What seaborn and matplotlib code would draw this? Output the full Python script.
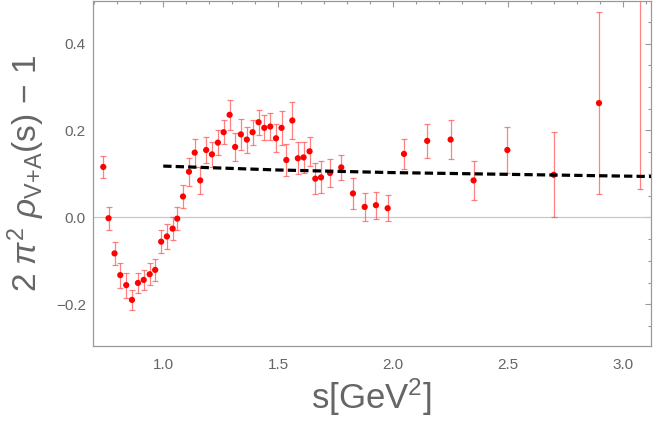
import matplotlib
matplotlib.use("Agg")
import matplotlib.pyplot as plt
import seaborn as sns
import numpy as np
import pandas as pd
from matplotlib.ticker import MultipleLocator, FixedLocator

# ---- data ----
s_vals = [0.739, 0.762, 0.788, 0.813, 0.839, 0.864, 0.890, 0.915, 0.941, 0.965,
          0.991, 1.016, 1.041, 1.061, 1.086, 1.112, 1.137, 1.161, 1.187, 1.212,
          1.238, 1.263, 1.289, 1.313, 1.338, 1.364, 1.389, 1.415, 1.440, 1.466,
          1.491, 1.515, 1.536, 1.562, 1.586, 1.611, 1.637, 1.662, 1.687, 1.726,
          1.775, 1.826, 1.877, 1.926, 1.977, 2.048, 2.149, 2.251, 2.351, 2.498,
          2.700, 2.897, 3.077]
rho_vals = [0.116, -0.002, -0.083, -0.133, -0.156, -0.190, -0.151, -0.144, -0.131, -0.121,
            -0.056, -0.044, -0.026, -0.003, 0.048, 0.105, 0.149, 0.085, 0.155, 0.145,
            0.172, 0.196, 0.236, 0.162, 0.191, 0.179, 0.196, 0.219, 0.206, 0.209,
            0.182, 0.206, 0.132, 0.223, 0.136, 0.138, 0.152, 0.089, 0.092, 0.102,
            0.115, 0.055, 0.024, 0.028, 0.021, 0.146, 0.176, 0.179, 0.085, 0.155,
            0.098, 0.263, 0.620]
err_vals = [0.026, 0.026, 0.027, 0.029, 0.029, 0.023, 0.022, 0.023, 0.025, 0.025,
            0.026, 0.028, 0.027, 0.027, 0.026, 0.032, 0.032, 0.032, 0.030, 0.029,
            0.028, 0.028, 0.034, 0.032, 0.036, 0.030, 0.029, 0.029, 0.029, 0.032,
            0.032, 0.039, 0.036, 0.043, 0.037, 0.036, 0.033, 0.035, 0.037, 0.033,
            0.029, 0.035, 0.032, 0.031, 0.030, 0.035, 0.039, 0.044, 0.044, 0.054,
            0.098, 0.210, 0.554]

curve_s = [1.0, 1.5, 2.0, 2.5, 3.125]
curve_vals = [0.118, 0.109, 0.103, 0.099, 0.094]

x_ticks = [1.0, 1.5, 2.0, 2.5, 3.0]
x_ticklabels = ["1.0", "1.5", "2.0", "2.5", "3.0"]
y_ticks = [-0.2, 0.0, 0.2, 0.4]
y_ticklabels = ["\u22120.2", "0.0", "0.2", "0.4"]

df = pd.DataFrame({"s": s_vals, "rho": rho_vals, "err": err_vals})
curve = pd.DataFrame({"s": curve_s, "v": curve_vals})

sns.set_style("white")
plt.rcParams["font.family"] = ["Liberation Sans", "DejaVu Sans"]
plt.rcParams["mathtext.fontset"] = "custom"
plt.rcParams["mathtext.rm"] = "Liberation Sans"
plt.rcParams["mathtext.it"] = "Liberation Sans:italic"
plt.rcParams["mathtext.sf"] = "Liberation Sans"

fig = plt.figure(figsize=(6.54, 4.29), dpi=100)
ax = fig.add_axes([92.7 / 654, 1 - 345.5 / 429, (650.7 - 92.7) / 654, (345.5 - 1) / 429])

ax.axhline(0, color="#c8c8c8", lw=0.9, zorder=1)

ax.errorbar(df["s"], df["rho"], yerr=df["err"], fmt="none",
            ecolor=(1, 0.3, 0.3, 0.7), elinewidth=0.9, capsize=2.4,
            capthick=0.9, zorder=2)
sns.scatterplot(data=df, x="s", y="rho", ax=ax, color="#ff0000", s=20,
                edgecolor="none", linewidth=0, zorder=3, legend=False)
sns.lineplot(data=curve, x="s", y="v", ax=ax, color="black", lw=2.3,
             linestyle=(0, (2.6, 1.3)), zorder=4, legend=False)

ax.set_xlim(0.693, 3.122)
ax.set_ylim(-0.295, 0.498)

ax.xaxis.set_major_locator(FixedLocator(x_ticks))
ax.set_xticklabels(x_ticklabels)
ax.xaxis.set_minor_locator(MultipleLocator(0.1))
ax.yaxis.set_major_locator(FixedLocator(y_ticks))
ax.set_yticklabels(y_ticklabels)
ax.yaxis.set_minor_locator(MultipleLocator(0.05))

frame_col = "#999999"
label_col = "#666666"
for sp in ax.spines.values():
    sp.set_color(frame_col)
    sp.set_linewidth(0.9)

ax.tick_params(which="both", direction="in", top=True, right=True,
               color=frame_col, labelcolor=label_col, labelsize=11)
ax.tick_params(which="major", length=4.5, width=0.8)
ax.tick_params(which="minor", length=2.5, width=0.8)
ax.tick_params(axis="x", which="major", pad=9)
ax.tick_params(axis="y", which="major", pad=5)

ax.set_xlabel(r"s[GeV$^2$]", fontsize=25, color=label_col, labelpad=3)
ax.set_ylabel(r"$2\ \pi^2\ \rho_{\mathrm{V}{+}\mathrm{A}}\mathrm{(s)}\,-\,1$", fontsize=24,
              color=label_col, labelpad=6)

fig.savefig("out.png", dpi=100)
